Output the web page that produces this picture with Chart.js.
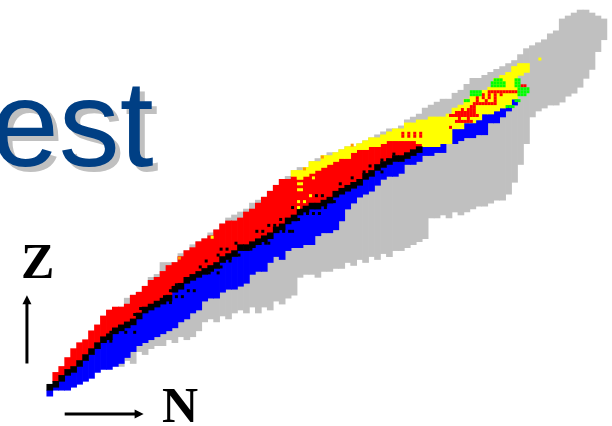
<!DOCTYPE html>
<html><head><meta charset="utf-8">
<style>
html,body{margin:0;padding:0;background:#fff;width:612px;height:426px;overflow:hidden}
#wrap{position:relative;width:612px;height:426px;overflow:hidden}
canvas{position:absolute;left:0;top:0}
.t{position:absolute;white-space:pre}
#word{left:-9px;top:54px;font:122px "Liberation Sans",Arial,sans-serif;color:#003F84;text-shadow:5px 5px 0 #C0C0C0}
#zl{left:21px;top:232px;font:bold 50px "Liberation Serif",serif;color:#000}
#nl{left:162px;top:376px;font:bold 50px "Liberation Serif",serif;color:#000}
</style>
<script src="https://cdn.jsdelivr.net/npm/chart.js@4"></script>
</head><body>
<div id="wrap">
<div class="t" id="word">est</div>
<div class="t" id="zl">Z</div>
<div class="t" id="nl">N</div>
<canvas id="c" width="612" height="426"></canvas>
</div>
<script>
const _ = null;
// Column positions: every second neutron number, N = 1,3,5,... (94 columns)
const columnsN = [1,3,5,7,9,11,13,15,17,19,21,23,25,27,29,31,33,35,37,39,41,43,45,47,49,51,53,55,57,59,61,63,65,67,69,71,73,75,77,79,81,83,85,87,89,91,93,95,97,99,101,103,105,107,109,111,113,115,117,119,121,123,125,127,129,131,133,135,137,139,141,143,145,147,149,151,153,155,157,159,161,163,165,167,169,171,173,175,177,179,181,183,185,187];
const greyTop = [_,_,_,_,_,_,_,_,_,_,_,_,
 28,31,32,33,35,38,39,43,43,43,
 46,47,49,50,51,53,54,56,58,59,
 60,61,63,64,65,67,69,71,72,74,
 75,75,77,78,79,80,80,81,82,82,
 83,84,85,86,87,88,88,89,91,92,
 93,95,96,97,98,98,100,101,103,105,
 105,106,107,108,109,110,111,113,115,116,
 117,118,120,121,125,126,127,128,128,127,
 126,125];
const greyBottom = [_,_,_,_,_,_,_,_,_,_,_,_,
 8,10,9,13,12,14,15,15,17,16,
 18,17,18,20,23,24,23,25,24,26,
 27,26,28,26,28,27,30,29,31,32,
 38,39,39,38,40,40,41,41,43,42,
 44,43,45,44,46,45,47,47,48,49,
 50,51,58,58,59,58,60,59,60,61,
 62,62,63,64,64,66,70,76,83,92,
 94,95,96,96,97,99,100,102,105,108,
 114,118];
const blueBottom = [-2,0,0,0,1,2,3,4,6,7,
 7,8,9,11,13,15,16,17,18,19,
 20,21,23,24,26,27,30,31,31,33,
 34,34,35,36,39,40,40,43,45,44,
 47,48,48,49,49,52,53,53,54,57,
 61,63,65,66,67,69,71,72,72,73,
 76,76,77,79,79,80,80,_,83,84,
 85,85,86,86,90,90,92,94,96];
const blueTop = [0,1,3,5,6,8,10,12,14,16,
 17,19,20,21,22,24,26,27,28,29,
 30,33,34,36,37,38,39,40,41,43,
 44,45,47,47,48,49,50,51,53,54,
 56,57,59,60,61,61,62,63,65,66,
 67,68,69,71,72,74,75,76,77,77,
 78,79,80,82,82,82,83,_,88,88,
 90,90,91,93,93,94,95,96,98];
const blackBottom = [0,1,3,5,6,8,10,12,14,16,
 17,19,20,21,22,24,26,27,28,29,
 30,33,34,36,37,38,39,40,41,43,
 44,45,47,47,48,49,50,51,53,54,
 56,57,59,60,61,61,62,63,65,66,
 67,68,69,71,72,74,75,76,77,77,
 78,79,80];
const blackTop = [2,3,5,7,8,10,12,14,16,18,
 19,21,22,23,24,26,28,29,30,31,
 32,35,36,38,39,40,41,42,43,45,
 46,47,49,49,50,51,52,53,55,56,
 58,59,61,62,63,63,64,65,67,68,
 69,70,71,73,74,76,77,78,79,79,
 80,81,82];
const redTop = [_,6,8,11,14,16,17,20,22,25,
 27,28,28,29,32,33,35,37,38,40,
 42,43,45,47,48,50,51,52,54,56,
 57,57,58,60,61,63,65,67,69,71,
 71,72,71,72,73,74,75,76,77,78,
 78,80,81,81,82,82,83,84,84,84,
 84,84,83];
const yellowBottom = [_,_,_,_,_,_,_,_,_,_,_,_,_,_,_,_,_,_,_,_,_,_,_,_,_,_,_,_,_,_,_,_,_,_,_,_,_,_,_,_,_,
 72,71,72,73,74,75,76,77,78,78,80,81,81,82,82,83,84,84,84,84,84,83,
 82,82,82,83,83,88,88,90,90,91,93,93,94,95,96,98,106,107];
const yellowTop = [_,_,_,_,_,_,_,_,_,_,_,_,_,_,_,_,_,_,_,_,_,_,_,_,_,_,_,_,_,_,_,_,_,_,_,_,_,_,_,_,_,
 74,74,75,77,77,79,79,80,81,82,82,83,84,85,85,86,87,88,88,90,90,91,
 91,92,92,92,93,95,96,98,99,100,101,102,105,106,107,109,110,110];
// Individual cells
const blackCellN = [43,45,47,41,43,45,39,31,29,41,26,29,23,21,19,21,51,49,47,58,60,57,63,68,64,61,53,54,57,58,70,72,74,76,78,80,84,73,74,79,81,82,82,87,89,91,90,92,96,93,98,102,106,108,112,112,114,116];
const blackCellZ = [35,35,37,33,31,31,31,27,25,29,19,19,19,19,16,16,41,33,33,47,47,45,49,47,45,43,43,39,39,41,53,53,55,55,57,57,57,49,49,53,53,53,61,59,59,59,65,65,63,61,69,71,73,75,73,77,77,79];
const yellowCellN = [84,85,84,85,84,85,89,88,84,86,84,55,165];
const yellowCellZ = [71,71,69,69,67,67,71,65,63,63,61,51,111];
const orangeCellN = [44,102,92,86];
const orangeCellZ = [44,82,78,74];
const redCellN = [148,149,150,151,152,153,154,155,156,157,144,146,148,150,144,147,150,143,144,145,146,147,148,149,150,142,143,142,143,135,136,137,138,139,140,141,142,143,144,137,138,139,140,141,138,141,137,138,139,140,141,142,135,159,160,119,121,123,125,119,121,123,125,146,148,150,152,139,141,142,143];
const redCellZ = [100,100,100,100,100,100,100,100,100,100,98,98,98,98,97,97,97,96,96,96,96,96,96,96,96,95,95,94,94,92,92,92,92,92,92,92,92,92,92,93,93,93,93,93,91,91,90,90,90,90,90,90,88,102,102,85,85,85,85,86,86,86,86,99,99,99,99,94,94,93,93];
const greenCellN = [149,150,151,152,153,149,150,151,152,153,150,151,152,157,158,157,158,157,158,158,159,160,161,158,159,160,161,158,159,160,140,141,142,143,144,145,142,143,144,145,154,155,156,157,158];
const greenCellZ = [103,103,103,103,103,102,102,102,102,102,104,104,104,104,104,103,103,102,102,101,101,101,101,100,100,100,100,99,99,99,97,97,100,100,100,100,99,99,99,99,95,95,95,97,97];
// Axis direction arrows, in chart units
const arrowZ = {n:[-6.67,-6.67], z:[9,32]};
const arrowN = {n:[6,32.5], z:[-8,-8]};

const band = (lo, hi) => columnsN.map((n,i)=> (lo[i]==null||hi[i]==null||lo[i]===undefined||hi[i]===undefined) ? null : {x:n,y:[lo[i],hi[i]]}).filter(Boolean);
const cells = (ns,zs) => ns.map((n,i)=>({x:n+0.5,y:zs[i]+0.5}));
const barDs = (label,lo,hi,color,order)=>({type:'bar',label,data:band(lo,hi),backgroundColor:color,borderWidth:0,barThickness:6,grouped:false,order});
const cellDs = (label,ns,zs,color,order)=>({type:'scatter',label,data:cells(ns,zs),pointStyle:'rect',pointRadius:2.1214,pointHoverRadius:2.1214,pointBorderWidth:0,backgroundColor:color,order});

const arrowsPlugin = {id:'arrows',afterDraw(ch){
  const {ctx,scales:{x,y}} = ch;
  const line=(a)=>{
    const x0=x.getPixelForValue(a.n[0]),y0=y.getPixelForValue(a.z[0]),x1=x.getPixelForValue(a.n[1]),y1=y.getPixelForValue(a.z[1]);
    const ang=Math.atan2(y1-y0,x1-x0);
    ctx.save();ctx.strokeStyle='#000';ctx.fillStyle='#000';ctx.lineWidth=3;
    ctx.beginPath();ctx.moveTo(x0,y0);ctx.lineTo(x1-6*Math.cos(ang),y1-6*Math.sin(ang));ctx.stroke();
    ctx.translate(x1,y1);ctx.rotate(ang);
    ctx.beginPath();ctx.moveTo(0,0);ctx.lineTo(-9,-4.5);ctx.lineTo(-9,4.5);ctx.closePath();ctx.fill();
    ctx.restore();
  };
  line(arrowZ);line(arrowN);
}};

new Chart(document.getElementById('c'),{
  type:'bar',
  data:{datasets:[
    cellDs('orange',orangeCellN,orangeCellZ,'#FF9900',1),
    cellDs('green',greenCellN,greenCellZ,'#00FF00',2),
    cellDs('red cells',redCellN,redCellZ,'#FF0000',3),
    cellDs('yellow cells',yellowCellN,yellowCellZ,'#FFFF00',4),
    cellDs('black cells',blackCellN,blackCellZ,'#000000',5),
    barDs('black',blackBottom,blackTop,'#000000',6),
    barDs('yellow',yellowBottom,yellowTop,'#FFFF00',7),
    barDs('red',blackTop,redTop,'#FF0000',8),
    barDs('blue',blueBottom,blueTop,'#0000FF',9),
    barDs('grey',greyBottom,greyTop,'#C0C0C0',10)
  ]},
  options:{
    responsive:false,animation:false,events:[],
    layout:{padding:0},
    plugins:{legend:{display:false},tooltip:{enabled:false},title:{display:false}},
    scales:{
      x:{type:'linear',min:-15,max:189,display:false,offset:false},
      y:{type:'linear',min:-34/3,max:392/3,display:false}
    }
  },
  plugins:[arrowsPlugin]
});
</script>
</body></html>
